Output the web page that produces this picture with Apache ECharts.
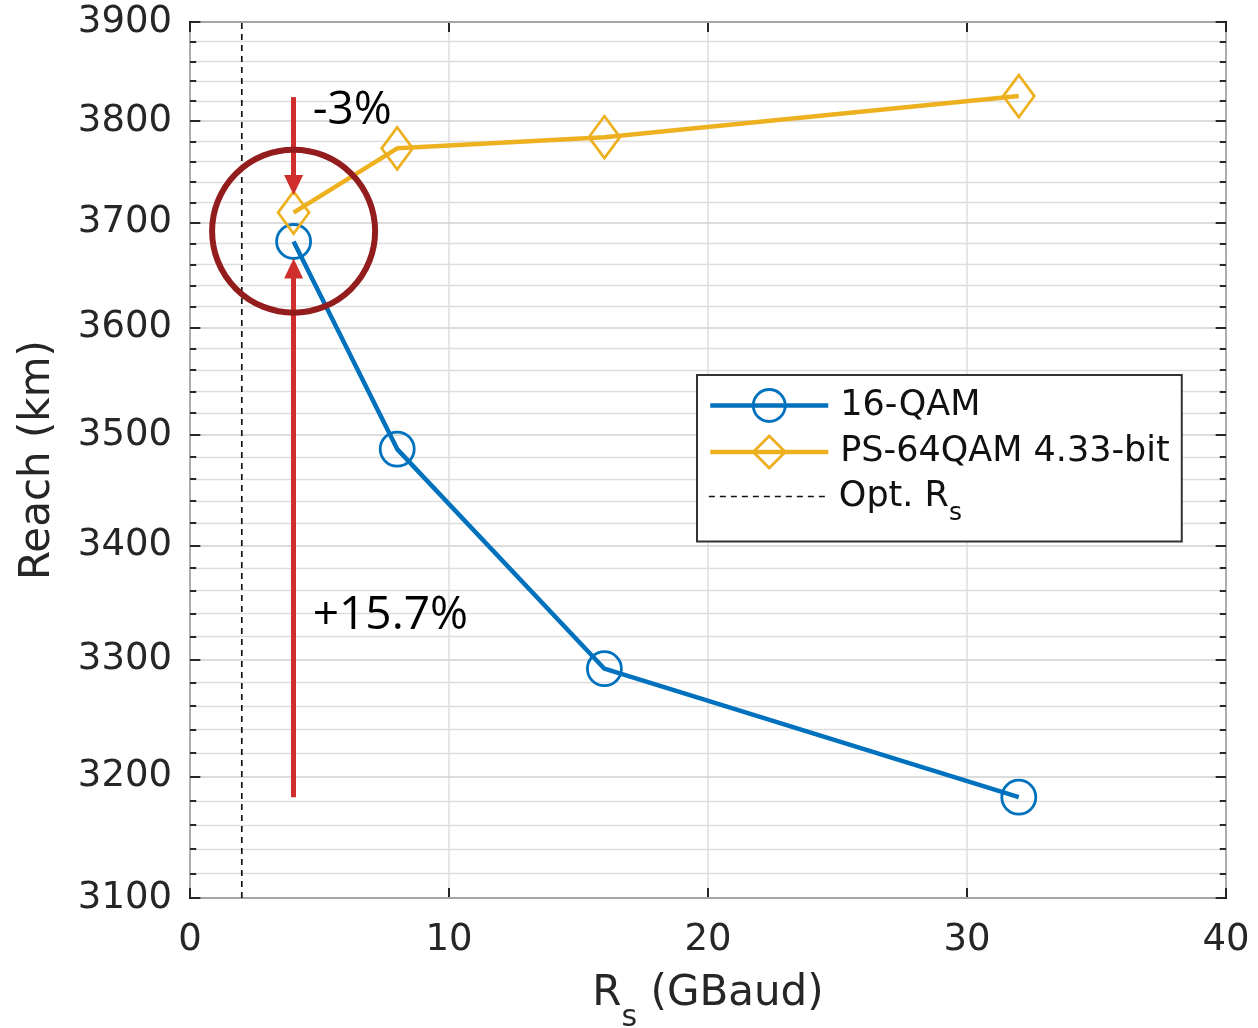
<!DOCTYPE html>
<html>
<head>
<meta charset="utf-8">
<script src="https://cdn.jsdelivr.net/npm/echarts@6/dist/echarts.min.js"></script>
<style>
  html, body { margin: 0; padding: 0; background: #ffffff; }
  #chart { width: 1258px; height: 1028px; }
</style>
</head>
<body>
<div id="chart"></div>
<script>
// Reach versus symbol rate
const symbolRate = [4, 8, 16, 32];                 // GBaud
const reach16QAM = [3682, 3487, 3292, 3183];       // km
const reachPS64QAM = [3710, 3773, 3784, 3825];     // km
const optimumRate = 2;                             // GBaud
const reachTicks = [3100, 3200, 3300, 3400, 3500, 3600, 3700, 3800, 3900];
const reachMinorStep = 20;
const rateTicks = [0, 10, 20, 30, 40];

// Annotation anchors in data units
const arrowPS = [[4, 3824], [4, 3737]];
const arrowQAM = [[4, 3183], [4, 3656]];
const highlightCenter = [4, 3692];
const notePS = { coord: [4.72, 3810], text: '-3%' };
const noteQAM = { coord: [4.72, 3338], text: '+15.7%' };

const AXIS = '#262626';
const FONT = 'DejaVu Sans';
const BLUE = '#0072BD';
const GOLD = '#EDB120';

const minorTicks = [];
for (let v = reachTicks[0]; v < reachTicks[reachTicks.length - 1]; v += reachMinorStep) {
  if (reachTicks.indexOf(v) < 0) minorTicks.push(v);
}
const xMin = rateTicks[0], xMax = rateTicks[rateTicks.length - 1];

// Horizontal grid lines + tick labels for the log reach axis
const gridLines = [];
reachTicks.forEach(v => gridLines.push({
  yAxis: v,
  lineStyle: { color: '#d0d0d0', width: 1.5, type: 'solid' },
  label: { show: true, position: 'start', distance: 18, formatter: String(v),
           color: AXIS, fontSize: 37, fontFamily: FONT }
}));
minorTicks.forEach(v => gridLines.push({
  yAxis: v,
  lineStyle: { color: '#dddddd', width: 1.3, type: 'solid' },
  label: { show: false }
}));

// Inward tick marks on the left and right frame
const tickMarks = [];
const majorLen = 0.4, minorLen = 0.24;
reachTicks.forEach(v => {
  tickMarks.push([{ coord: [xMin, v] }, { coord: [xMin + majorLen, v] }]);
  tickMarks.push([{ coord: [xMax - majorLen, v] }, { coord: [xMax, v] }]);
});
minorTicks.forEach(v => {
  tickMarks.push([{ coord: [xMin, v] }, { coord: [xMin + minorLen, v] }]);
  tickMarks.push([{ coord: [xMax - minorLen, v] }, { coord: [xMax, v] }]);
});

const legendText = {
  color: '#111111', fontSize: 35, fontFamily: FONT, padding: [0, 0, 0, 7],
  rich: {
    n: { fontSize: 35, fontFamily: FONT, color: '#111111', lineHeight: 35, padding: [6, 0, 6, 0] },
    s: { fontSize: 25, fontFamily: FONT, color: '#111111', lineHeight: 25, verticalAlign: 'top', padding: [22, 0, 0, 0] }
  }
};

const chart = echarts.init(document.getElementById('chart'), null, { renderer: 'canvas' });

chart.setOption({
  animation: false,
  backgroundColor: '#ffffff',
  grid: {
    left: 190, right: 32, top: 22, bottom: 130,
    outerBoundsMode: 'none', containLabel: false,
    show: true, borderColor: AXIS, borderWidth: 2, backgroundColor: '#ffffff'
  },
  xAxis: [{
    type: 'value', min: xMin, max: xMax, interval: 10,
    name: '{n|R}{s|s}{n| (GBaud)}',
    nameLocation: 'middle', nameGap: 75,
    nameTextStyle: {
      color: AXIS, fontFamily: FONT,
      rich: {
        n: { fontSize: 42, fontFamily: FONT, color: AXIS, lineHeight: 42, verticalAlign: 'top' },
        s: { fontSize: 30, fontFamily: FONT, color: AXIS, lineHeight: 30, verticalAlign: 'top', padding: [30, 0, 0, 0] }
      }
    },
    axisLine: { show: false },
    axisTick: { show: true, inside: true, length: 10, lineStyle: { color: AXIS, width: 2 } },
    axisLabel: { color: AXIS, fontSize: 37, fontFamily: FONT, margin: 24 },
    splitLine: { show: true, lineStyle: { color: '#dcdcdc', width: 1.5 } }
  }, {
    type: 'value', position: 'top', min: xMin, max: xMax, interval: 10,
    axisLine: { show: false },
    axisTick: { show: true, inside: true, length: 10, lineStyle: { color: AXIS, width: 2 } },
    axisLabel: { show: false },
    splitLine: { show: false }
  }],
  yAxis: {
    type: 'log', min: reachTicks[0], max: reachTicks[reachTicks.length - 1],
    name: 'Reach (km)', nameLocation: 'middle', nameGap: 131,
    nameTextStyle: { color: AXIS, fontSize: 42, fontFamily: FONT },
    axisLine: { show: false },
    axisTick: { show: false },
    axisLabel: { show: false },
    splitLine: { show: false },
    minorTick: { show: false },
    minorSplitLine: { show: false }
  },
  legend: [{
    data: [
      { name: '16-QAM', lineStyle: { width: 4.5 }, itemStyle: { borderWidth: 2.8 } },
      { name: 'PS-64QAM 4.33-bit', lineStyle: { width: 4.5 }, itemStyle: { borderWidth: 2.8 } }
    ],
    orient: 'vertical', left: 697, top: 375, z: 20,
    itemWidth: 118, itemHeight: 40, itemGap: 11.5,
    padding: [13, 12, 72, 11],
    backgroundColor: '#ffffff', borderColor: '#333333', borderWidth: 2, borderRadius: 0,
    textStyle: legendText
  }, {
    data: [{ name: 'Opt. Rs', lineStyle: { width: 1.7 } }],
    orient: 'vertical', left: 697, top: 473, z: 21,
    itemWidth: 118, itemHeight: 40,
    padding: [0, 12, 0, 11],
    backgroundColor: 'transparent', borderWidth: 0,
    formatter: () => '{n|Opt. R}{s|s}',
    textStyle: legendText
  }],
  series: [
    {
      name: 'grid-lines', type: 'line', data: [], z: 1, silent: true,
      markLine: { z: 1, silent: true, symbol: 'none', animation: false, label: { show: false }, data: gridLines }
    },
    {
      name: 'frame-ticks', type: 'line', data: [], z: 2, silent: true,
      markLine: {
        z: 2, silent: true, symbol: 'none', animation: false, label: { show: false },
        lineStyle: { color: AXIS, width: 2, type: 'solid' }, data: tickMarks
      }
    },
    {
      name: 'Opt. Rs', type: 'line', z: 3,
      data: [[optimumRate, reachTicks[0]], [optimumRate, reachTicks[reachTicks.length - 1]]],
      symbol: 'none',
      lineStyle: { color: '#111111', width: 1.7, type: [6, 5] },
      itemStyle: { color: 'rgba(0,0,0,0)', borderWidth: 0 }
    },
    {
      name: '16-QAM', type: 'line', z: 4,
      data: symbolRate.map((x, i) => [x, reach16QAM[i]]),
      symbol: 'circle', symbolSize: 34,
      lineStyle: { color: BLUE, width: 4.5 },
      itemStyle: { color: 'rgba(0,0,0,0)', borderColor: BLUE, borderWidth: 2.8 }
    },
    {
      name: 'PS-64QAM 4.33-bit', type: 'line', z: 4,
      data: symbolRate.map((x, i) => [x, reachPS64QAM[i]]),
      symbol: 'diamond', symbolSize: [31, 42],
      lineStyle: { color: GOLD, width: 4.5 },
      itemStyle: { color: 'rgba(0,0,0,0)', borderColor: GOLD, borderWidth: 2.8 }
    },
    {
      name: 'annotations', type: 'line', data: [], z: 10, silent: true,
      markLine: {
        z: 10, silent: true, animation: false,
        symbol: ['none', 'triangle'], symbolSize: [19, 20],
        label: { show: false },
        lineStyle: { color: '#d02d2d', width: 5, type: 'solid' },
        itemStyle: { color: '#d02d2d' },
        data: [
          [{ coord: arrowPS[0] }, { coord: arrowPS[1] }],
          [{ coord: arrowQAM[0] }, { coord: arrowQAM[1] }]
        ]
      },
      markPoint: {
        z: 10, silent: true, animation: false,
        data: [
          {
            coord: highlightCenter, symbol: 'circle', symbolSize: 163,
            itemStyle: { color: 'rgba(0,0,0,0)', borderColor: '#931d1d', borderWidth: 6 },
            label: { show: false }
          },
          {
            coord: notePS.coord, symbol: 'rect', symbolSize: 1,
            itemStyle: { color: 'rgba(0,0,0,0)' },
            label: { show: true, position: 'right', distance: 0, formatter: notePS.text,
                     color: '#000000', fontSize: 46, fontFamily: 'Open Sans' }
          },
          {
            coord: noteQAM.coord, symbol: 'rect', symbolSize: 1,
            itemStyle: { color: 'rgba(0,0,0,0)' },
            label: { show: true, position: 'right', distance: 0, formatter: noteQAM.text,
                     color: '#000000', fontSize: 46, fontFamily: 'Open Sans' }
          }
        ]
      }
    }
  ]
});
</script>
</body>
</html>
